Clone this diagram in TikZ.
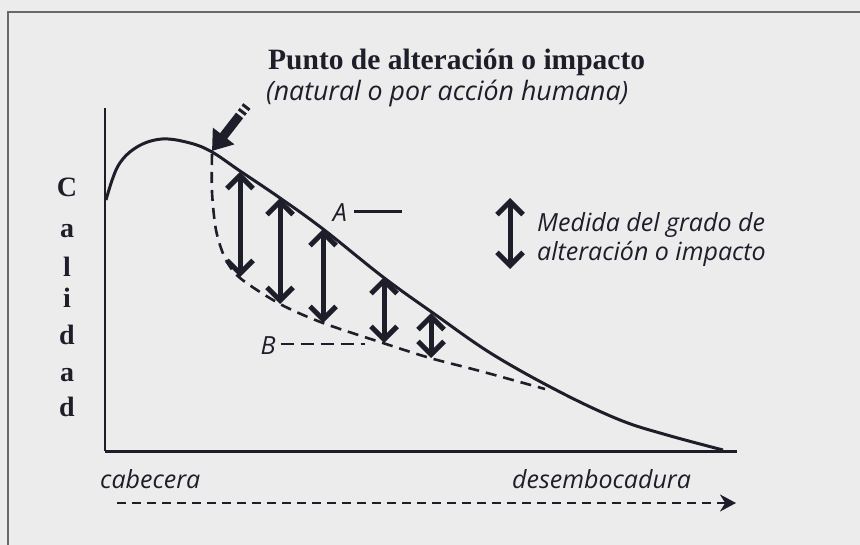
\documentclass[tikz,border=0pt]{standalone}
\usepackage{fontspec}
\usetikzlibrary{arrows.meta,calc}
\newfontfamily\titlefont{Liberation Serif}
\newfontfamily\itfont{Open Sans}
\definecolor{ink}{RGB}{30,30,42}
\definecolor{paper}{RGB}{236,236,236}
\definecolor{framegray}{RGB}{105,105,105}
\begin{document}
\begin{tikzpicture}[x=1pt,y=-1pt,
  inkline/.style={draw=ink, line width=3pt},
  dashline/.style={draw=ink, line width=2.6pt, dash pattern=on 11pt off 7pt},
  measure/.style={draw=ink, line width=5pt, {Straight Barb[length=13pt,width=26pt]}-{Straight Barb[length=13pt,width=26pt]}},
  lab/.style={font=\itfont\itshape\fontsize{25}{28}\selectfont, text=ink, inner sep=0pt},
  letter/.style={font=\titlefont\bfseries\fontsize{28}{30}\selectfont, text=ink, inner sep=0pt, anchor=base}
]
\useasboundingbox (0,0) rectangle (860,545);
\fill[paper] (0,0) rectangle (860,545);
% frame of the page box
\draw[framegray, line width=1.5pt] (8,545) -- (8,12) -- (860,12);

% titles
\node[font=\titlefont\bfseries\fontsize{29.5}{32}\selectfont, text=ink, inner sep=0pt, anchor=base west] (title) at (268,70) {Punto de alteración o impacto};
\node[lab, font=\itfont\itshape\fontsize{26.7}{30}\selectfont, anchor=base west] (subtitle) at (266,101) {(natural o por acción humana)};

% axes
\coordinate (ytop) at (105,108);
\coordinate (origin) at (105,451);
\coordinate (xend) at (737,451);
\draw[ink, line width=2pt] (ytop) -- (origin);
\draw[ink, line width=3pt] (origin) -- (xend);

% Calidad
\node[letter] (c1) at (67,197) {C};
\node[letter] (c2) at (67,238) {a};
\node[letter] (c3) at (67,277) {l};
\node[letter] (c4) at (67,308) {i};
\node[letter] (c5) at (67,345) {d};
\node[letter] (c6) at (67,382) {a};
\node[letter] (c7) at (67,417) {d};

% main quality curve
\draw[inkline] plot[smooth, tension=0.6] coordinates {(106,200) (118,166) (137,147) (162,139) (190,143) (212,152) (240,171) (280,198) (323,229) (383,277) (433,313) (492,354) (560,392) (620,420) (667,435) (723,450)};

% altered (dashed) curve
\draw[dashline] plot[smooth, tension=0.5] coordinates {(212,154) (212,192) (216,230) (225,258) (240,278) (280,304) (323,323) (383,343) (430,358) (480,371) (545,389)};

% measure points
\coordinate (t1) at (240,172); \coordinate (b1) at (240,277);
\coordinate (t2) at (280,198); \coordinate (b2) at (280,304);
\coordinate (t3) at (323,229); \coordinate (b3) at (323,323);
\coordinate (t4) at (384,277); \coordinate (b4) at (384,343);
\coordinate (t5) at (431,313); \coordinate (b5) at (431,358);
\draw[measure] (t1) -- (b1);
\draw[measure] (t2) -- (b2);
\draw[measure] (t3) -- (b3);
\draw[measure] (t4) -- (b4);
\draw[measure] (t5) -- (b5);

% A and B
\node[lab, anchor=base] (A) at (340,222) {A};
\coordinate (Aend) at (402,212);
\draw[inkline] (354,212) -- (Aend);
\node[lab, anchor=base] (B) at (268,355) {B};
\coordinate (Bend) at (365,344);
\draw[dashline, dash pattern=on 13pt off 7pt] ([xshift=5pt]B.east |- Bend) -- (Bend);

% impact arrow
\coordinate (hit) at (212,151);
\coordinate (tail) at (250,102);
\draw[ink, line width=9pt, -{Triangle[length=19pt,width=26pt]}] ($(hit)!45pt!(tail)$) -- (hit);
\draw[ink, line width=9pt] ($(hit)!48pt!(tail)$) -- ($(hit)!51pt!(tail)$);
\draw[ink, line width=9pt] ($(hit)!54pt!(tail)$) -- ($(hit)!57pt!(tail)$);

% legend
\coordinate (lt) at (510,198);
\coordinate (lb) at (510,269);
\draw[measure] (lt) -- (lb);
\node[lab, anchor=base west] (leg1) at (537,232) {Medida del grado de};
\node[lab, anchor=base west] (leg2) at (537,261) {alteración o impacto};

% bottom labels and flow arrow
\node[lab, anchor=base west] (cab) at (100,488) {cabecera};
\node[lab, anchor=base west] (des) at (512,488) {desembocadura};
\coordinate (fs) at (117,503);
\coordinate (fe) at (736,503);
\draw[ink, line width=2.4pt, dash pattern=on 9pt off 6pt, -{Stealth[length=16pt,width=17pt]}] (fs) -- (fe);
\end{tikzpicture}
\end{document}
